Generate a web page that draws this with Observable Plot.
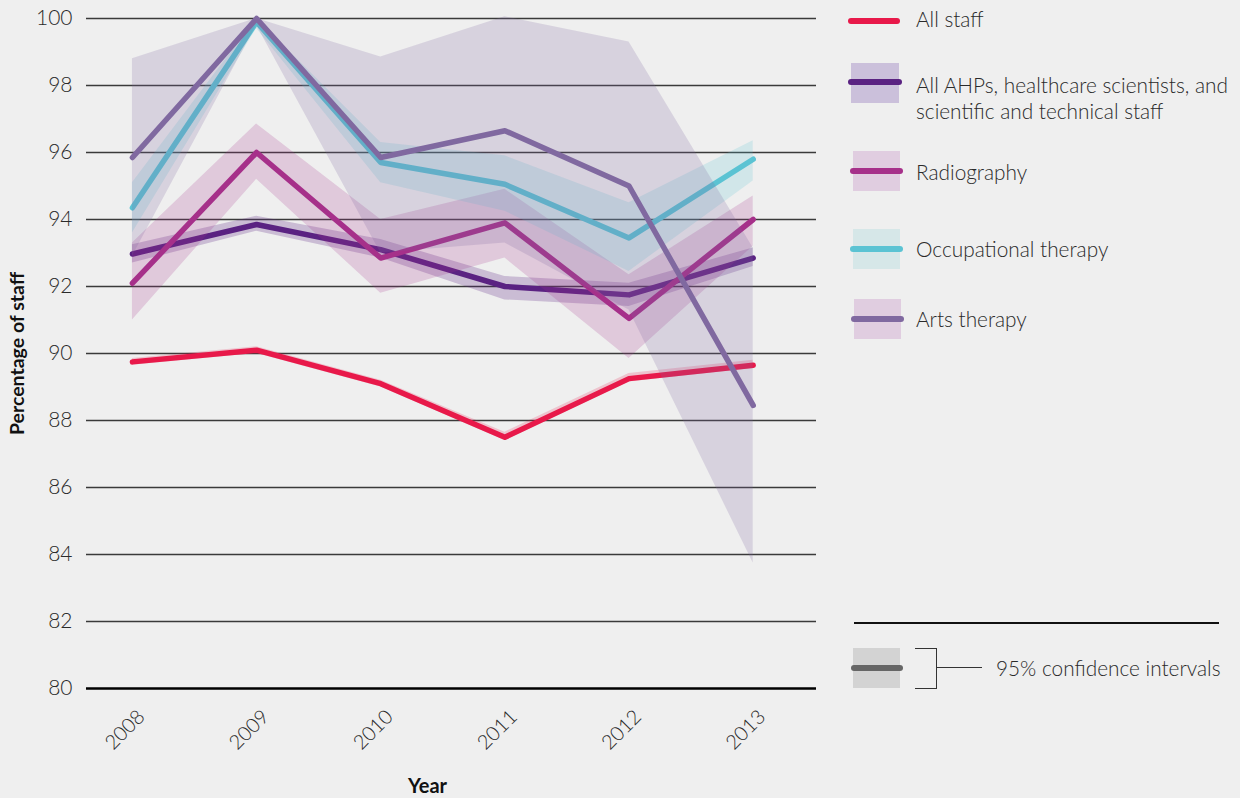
<!DOCTYPE html>
<html>
<head>
<meta charset="utf-8">
<script src="https://cdn.jsdelivr.net/npm/d3@7"></script>
<script src="https://cdn.jsdelivr.net/npm/@observablehq/plot@0.6"></script>
<style>
  html, body { margin: 0; padding: 0; background: #efefef; }
  #wrap { position: relative; width: 1240px; height: 798px; font-family: Lato, "Open Sans", sans-serif; color: #333; }
  .lg { position: absolute; }
  .txt { position: absolute; font-size: 20.8px; font-weight: 300; line-height: 26px; white-space: nowrap; color: #2a2a2a; }
  .sw { position: absolute; height: 6px; border-radius: 3px; }
</style>
</head>
<body>
<div id="wrap"></div>
<script>
// ---- data ----
const years = [2008, 2009, 2010, 2011, 2012, 2013];
const yTicks = [80, 82, 84, 86, 88, 90, 92, 94, 96, 98, 100];

const seriesNames = [
  "All staff",
  "All AHPs, healthcare scientists, and scientific and technical staff",
  "Radiography",
  "Occupational therapy",
  "Arts therapy"
];
const seriesColors = ["#e8194a", "#5a2282", "#a6308a", "#5bc3d3", "#8069a0"];
const bandOpacity = [0.2, 0.25, 0.2, 0.2, 0.21];

const allStaff   = [89.75, 90.1, 89.1, 87.5, 89.25, 89.65];
const allStaffLo = [89.65, 90.0, 89.0, 87.4, 89.15, 89.55];
const allStaffHi = [89.85, 90.2, 89.2, 87.65, 89.4, 89.8];

const ahp   = [92.97, 93.85, 93.1, 92.0, 91.75, 92.85];
const ahpLo = [92.7, 93.65, 92.85, 91.6, 91.4, 92.6];
const ahpHi = [93.25, 94.1, 93.4, 92.3, 92.1, 93.15];

const radio   = [92.1, 96.0, 92.85, 93.9, 91.05, 94.0];
const radioLo = [91.0, 95.2, 91.8, 92.85, 89.85, 93.2];
const radioHi = [93.3, 96.85, 94.0, 94.9, 92.35, 94.7];

const ot   = [94.35, 99.9, 95.7, 95.05, 93.45, 95.8];
const otLo = [93.6, 99.7, 95.1, 94.25, 92.45, 95.15];
const otHi = [95.1, 100.0, 96.3, 95.9, 94.5, 96.35];

const arts   = [95.85, 100.0, 95.85, 96.65, 95.0, 88.45];
const artsLo = [92.9, 99.8, 93.0, 93.3, 91.3, 83.75];
const artsHi = [98.8, 100.0, 98.85, 100.05, 99.3, 93.15];

const values = [allStaff, ahp, radio, ot, arts];
const lows = [allStaffLo, ahpLo, radioLo, otLo, artsLo];
const highs = [allStaffHi, ahpHi, radioHi, otHi, artsHi];

// ---- build rows ----
const seriesRows = seriesNames.map((name, i) =>
  years.map((year, j) => ({series: name, year, value: values[i][j], lo: lows[i][j], hi: highs[i][j]}))
);

const marks = [
  Plot.ruleY(yTicks.filter(t => t > 80), {stroke: "#3a3a3a", strokeWidth: 1.3}),
  Plot.ruleY([80], {stroke: "#000", strokeWidth: 2.5})
];
seriesRows.forEach((rows, i) => {
  marks.push(Plot.areaY(rows, {x: "year", y1: "lo", y2: "hi", fill: seriesColors[i], fillOpacity: bandOpacity[i]}));
  marks.push(Plot.line(rows, {x: "year", y: "value", stroke: seriesColors[i], strokeWidth: 5.5, strokeLinecap: "round", strokeLinejoin: "round"}));
});
marks.push(
  Plot.axisY(yTicks, {tickSize: 0, tickPadding: 14, fontSize: 21, label: null, fill: "#2a2a2a"}),
  Plot.axisX(years, {tickRotate: -45, tickSize: 0, tickPadding: 25, dx: 9, fontSize: 20, tickFormat: d => String(d), label: null, fill: "#2a2a2a"}),
  Plot.text(["Percentage of staff"], {text: d => d, frameAnchor: "left", textAnchor: "middle", lineAnchor: "middle", rotate: -90, dx: -69, fontSize: 19.5, fontWeight: "bold", fill: "#111"}),
  Plot.text(["Year"], {text: d => d, frameAnchor: "bottom", textAnchor: "middle", lineAnchor: "middle", dy: 98, dx: -24, fontSize: 20, fontWeight: "bold", fill: "#111"})
);

const chart = Plot.plot({
  width: 1240,
  height: 798,
  marginLeft: 86,
  marginRight: 424,
  marginTop: 18,
  marginBottom: 110,
  x: {domain: [2007.63, 2013.51]},
  y: {domain: [80, 100]},
  style: {fontFamily: "Lato, 'Open Sans', sans-serif", fontWeight: 300, background: "#efefef", color: "#333", overflow: "visible"},
  marks
});

const wrap = document.getElementById("wrap");
wrap.appendChild(chart);

// ---- legend (HTML overlay) ----
function add(html) { wrap.insertAdjacentHTML("beforeend", html); }
const legendItems = [
  {box: null, lineX: 848, lineW: 52, lineY: 21, textY: 19, lines: ["All staff"]},
  {box: ["#cbc0db", 851, 63, 48, 40], lineX: 848, lineW: 54, lineY: 82, textY: 85, lines: ["All AHPs, healthcare scientists, and", "scientific and technical staff"]},
  {box: ["#e0cde0", 853, 151, 47, 40], lineX: 850, lineW: 53, lineY: 171, textY: 172, lines: ["Radiography"]},
  {box: ["#d6e7e8", 853, 229, 47, 40], lineX: 850, lineW: 53, lineY: 249, textY: 249, lines: ["Occupational therapy"]},
  {box: ["#e0cde0", 854, 299, 47, 40], lineX: 851, lineW: 53, lineY: 319, textY: 319, lines: ["Arts therapy"]}
];
legendItems.forEach((it, i) => {
  if (it.box) add(`<div class="lg" style="background:${it.box[0]};left:${it.box[1]}px;top:${it.box[2]}px;width:${it.box[3]}px;height:${it.box[4]}px"></div>`);
  add(`<div class="sw" style="background:${seriesColors[i]};left:${it.lineX}px;top:${it.lineY - 3}px;width:${it.lineW}px"></div>`);
  it.lines.forEach((t, k) => add(`<div class="txt" style="left:916px;top:${it.textY - 13 + k * 26}px">${t}</div>`));
});
// divider
add(`<div class="lg" style="background:#111;left:854px;top:622px;width:365px;height:2px"></div>`);
// CI legend
add(`<div class="lg" style="background:#d3d3d3;left:853px;top:648px;width:47px;height:40px"></div>`);
add(`<div class="sw" style="background:#666;left:851px;top:665px;width:52px"></div>`);
add(`<div class="lg" style="border:1.3px solid #333;border-left:none;left:915px;top:648px;width:21px;height:39px"></div>`);
add(`<div class="lg" style="background:#333;left:937px;top:667px;width:45px;height:1.3px"></div>`);
add(`<div class="txt" style="left:996px;top:655px">95% confidence intervals</div>`);
</script>
</body>
</html>
